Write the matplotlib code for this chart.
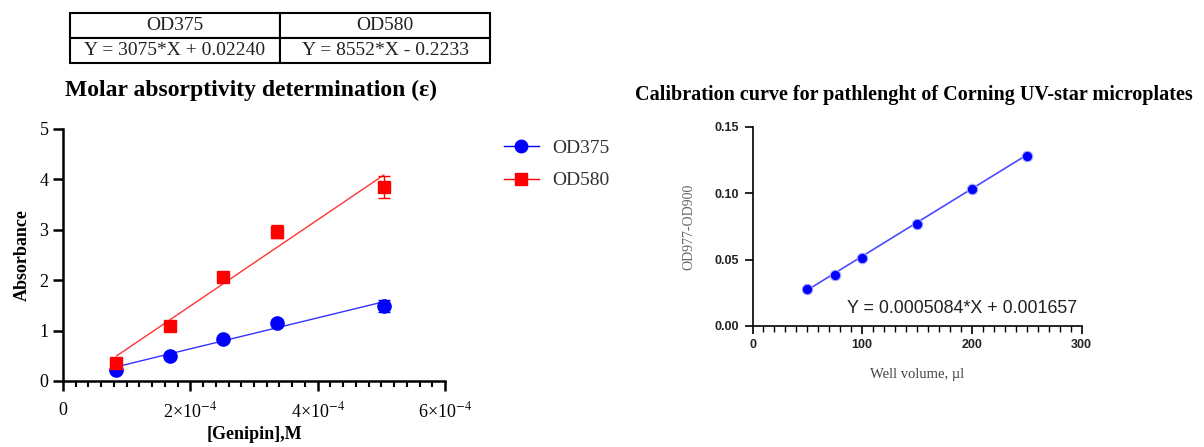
import numpy as np
import matplotlib.pyplot as plt
from matplotlib.ticker import MultipleLocator, FixedLocator

plt.rcParams['font.family'] = ['Liberation Serif', 'DejaVu Serif']
plt.rcParams['mathtext.fontset'] = 'stix'

# --- molar absorptivity data ---
genipin = [0.84e-4, 1.68e-4, 2.52e-4, 3.36e-4, 5.04e-4]
od375 = [0.22, 0.50, 0.83, 1.15, 1.49]
od375_err = [0.04, 0.04, 0.04, 0.05, 0.12]
od580 = [0.36, 1.10, 2.06, 2.96, 3.85]
od580_err = [0.05, 0.06, 0.08, 0.13, 0.22]
fit375 = (3075, 0.02240)
fit580 = (8552, -0.2233)
table_head = ['OD375', 'OD580']
table_eq = ['Y = 3075*X + 0.02240', 'Y = 8552*X - 0.2233']

# --- pathlength calibration data ---
volume = [50, 75, 100, 150, 200, 250]
od_diff = [0.0276, 0.0381, 0.0515, 0.0770, 0.1030, 0.1280]
fit_path = (0.0005084, 0.001657)

fig = plt.figure(figsize=(12.04, 4.47), dpi=100)

# equation table
tax = fig.add_axes([0.0581, 0.859, 0.349, 0.112])
tax.axis('off')
tbl = tax.table(cellText=[table_head, table_eq], cellLoc='center',
                bbox=[0, 0, 1, 1])
tbl.auto_set_font_size(False)
for (r, c), cell in tbl.get_celld().items():
    cell.set_linewidth(1.5)
    cell.get_text().set_fontsize(14)
    cell.get_text().set_color('#222222')

fig.text(65 / 1204, 1 - 90 / 447, 'Molar absorptivity determination (ε)',
         fontsize=17, fontweight='bold', va='center', ha='left')

# left chart
ax = fig.add_axes([0.0523, 0.1477, 0.3173, 0.5638])
blue = '#0000ff'
red = '#ff0000'
xs = np.array([genipin[0], genipin[-1]])
ax.plot(xs, fit375[0] * xs + fit375[1], color=blue, lw=1, alpha=0.8)
ax.plot(xs, fit580[0] * xs + fit580[1], color=red, lw=1, alpha=0.8)
ax.errorbar(genipin, od375, yerr=od375_err, fmt='o', color=blue, ms=9.5,
            capsize=4, elinewidth=1, label='OD375')
ax.errorbar(genipin, od580, yerr=od580_err, fmt='s', color=red, ms=8.5,
            capsize=4, elinewidth=1, label='OD580')
ax.set_xlim(0, 6e-4)
ax.set_ylim(0, 5)
ax.xaxis.set_major_locator(FixedLocator([0, 2e-4, 4e-4, 6e-4]))
ax.set_xticklabels(['0', '2×10$^{-4}$', '4×10$^{-4}$', '6×10$^{-4}$'])
ax.xaxis.set_minor_locator(MultipleLocator(2e-5))
ax.set_yticks(range(6))
for s in ['top', 'right']:
    ax.spines[s].set_visible(False)
for s in ['left', 'bottom']:
    ax.spines[s].set_linewidth(1.8)
ax.tick_params(which='major', length=7, width=1.8, labelsize=13)
ax.tick_params(which='minor', length=4, width=1.5)
ax.tick_params(axis='x', pad=8)
ax.set_ylabel('Absorbance', fontsize=13, fontweight='bold', labelpad=6)
ax.set_xlabel('[Genipin],M', fontsize=13, fontweight='bold', labelpad=3)

l = ['OD375', 'OD580']
h = [plt.Line2D([], [], color=blue, marker='o', ms=9, lw=1),
     plt.Line2D([], [], color=red, marker='s', ms=8.5, lw=1)]
fig.legend(h, l, loc='upper left', bbox_to_anchor=(486 / 1204, 1 - 122 / 447),
           frameon=False, fontsize=14, handlelength=1.8, handletextpad=0.7,
           labelspacing=0.75, labelcolor='#333333')

# right chart
fig.text(0.5 * (630 + 1198) / 1204, 1 - 95 / 447,
         'Calibration curve for pathlenght of Corning UV-star microplates',
         fontsize=14.5, fontweight='bold', ha='center', va='center')
ax2 = fig.add_axes([0.625, 0.2707, 0.2734, 0.4459])
vx = np.array([volume[0], volume[-1]])
ax2.plot(vx, fit_path[0] * vx + fit_path[1], color='#4a4aff', lw=1.2)
ax2.plot(volume, od_diff, 'o', color=blue, ms=7.5, mec='#aaaaff', mew=0.8)
ax2.set_xlim(0, 300)
ax2.set_ylim(0, 0.15)
ax2.set_xticks([0, 100, 200, 300])
ax2.xaxis.set_minor_locator(MultipleLocator(10))
ax2.set_yticks([0, 0.05, 0.10, 0.15])
ax2.set_yticklabels(['0.00', '0.05', '0.10', '0.15'])
for s in ['top', 'right']:
    ax2.spines[s].set_visible(False)
for s in ['left', 'bottom']:
    ax2.spines[s].set_linewidth(1.2)
ax2.tick_params(which='major', length=6, width=1.2)
ax2.tick_params(which='minor', length=4, width=1)
for lab in ax2.get_xticklabels() + ax2.get_yticklabels():
    lab.set_family(['Liberation Sans', 'DejaVu Sans'])
    lab.set_fontweight('bold')
    lab.set_fontsize(9)
    lab.set_color('#222222')
ax2.set_ylabel('OD977-OD900', fontsize=10, color='#666666', labelpad=14)
ax2.set_xlabel('Well volume, µl', fontsize=10.5, color='#444444', labelpad=12)
ax2.text(86, 0.0128, 'Y = 0.0005084*X + 0.001657', fontsize=12.9,
         family=['Liberation Sans', 'DejaVu Sans'], va='center', ha='left',
         color='#222222')

fig.savefig('out.png', dpi=100)
